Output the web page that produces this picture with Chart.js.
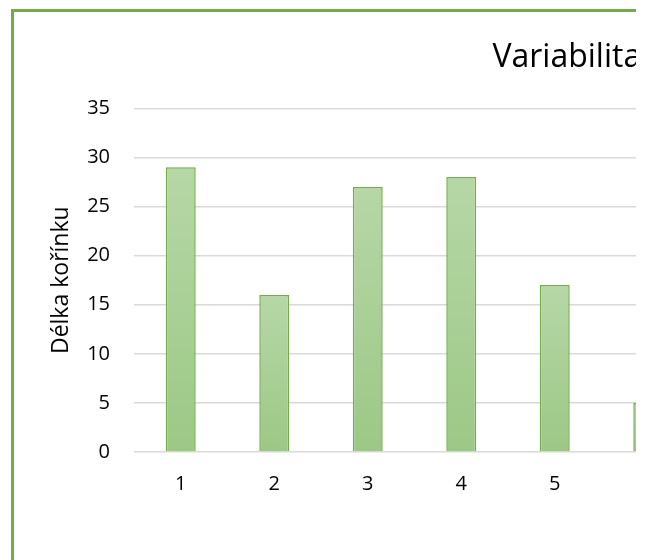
<!DOCTYPE html>
<html lang="cs">

<head>
  <meta charset="UTF-8">
  <title>Variabilita délky kořínku</title>
  <script src="https://cdn.jsdelivr.net/npm/chart.js"></script>
  <style>
    body {
      margin: 0;
      background: #fff;
    }

    /* the reference is a crop of a wider chart */
    .crop {
      position: absolute;
      left: 0;
      top: 0;
      width: 636px;
      height: 560px;
      overflow: hidden;
    }

    .frame {
      position: absolute;
      left: 11px;
      top: 9px;
      width: 1334px;
      height: 600px;
      border-left: 3px solid #70ad47;
      border-top: 3px solid #70ad47;
      background: #fff;
    }
  </style>
</head>

<body>
  <div class="crop">
    <div class="frame">
      <canvas id="rootChart" width="1334" height="600"></canvas>
    </div>
  </div>

  <script>
    const titleText = 'Variabilita délky kořínku';
    const yTitle = 'Délka kořínku';
    const plants = ['1', '2', '3', '4', '5', '6', '7', '8', '9', '10', '11', '12'];
    const lengths = [29, 16, 27, 28, 17, 5];
    const yTicks = [0, 5, 10, 15, 20, 25, 30, 35];

    const font = "'Open Sans', sans-serif";

    // light-to-darker green per bar, like the Excel gradient fill
    function barFill(c) {
      const chart = c.chart;
      if (!chart.chartArea || !c.parsed) return '#a9d18e';
      const y = chart.scales.y;
      const top = y.getPixelForValue(c.parsed.y);
      const bottom = y.getPixelForValue(0);
      const g = chart.ctx.createLinearGradient(0, top, 0, bottom);
      g.addColorStop(0, '#b6d7a6');
      g.addColorStop(1, '#9cc886');
      return g;
    }

    const ctx = document.getElementById('rootChart').getContext('2d');
    new Chart(ctx, {
      type: 'bar',
      data: {
        labels: plants,
        datasets: [{
          label: yTitle,
          data: lengths,
          backgroundColor: barFill,
          borderColor: '#70ad47',
          borderWidth: 1.5,
          borderSkipped: 'bottom',
          barPercentage: 0.32,
          categoryPercentage: 1
        }]
      },
      options: {
        responsive: false,
        animation: false,
        layout: {
          padding: { left: 0, right: 20, top: 0, bottom: 96 }
        },
        plugins: {
          legend: { display: false },
          tooltip: { enabled: false },
          title: {
            display: true,
            text: titleText,
            color: '#000',
            font: { family: font, size: 32, weight: 'normal' },
            padding: { top: 27, bottom: 31 }
          }
        },
        scales: {
          x: {
            grid: { display: false, drawTicks: false },
            border: { display: false },
            ticks: {
              color: '#000',
              font: { family: font, size: 20 },
              padding: 20
            }
          },
          y: {
            min: 0,
            max: 35,
            afterBuildTicks: s => { s.ticks = yTicks.map(v => ({ value: v })); },
            afterFit: s => { s.width = 120; },
            grid: { color: '#d9d9d9', lineWidth: 1.5, drawTicks: false },
            border: { display: false },
            ticks: {
              color: '#000',
              font: { family: font, size: 20 },
              padding: 24
            },
            title: {
              display: true,
              text: yTitle,
              color: '#000',
              font: { family: font, size: 23 },
              padding: { top: 34, bottom: 0 }
            }
          },
          // empty space right of the plot (outside the crop), keeps the title centred like the original
          spacer: {
            position: 'right',
            grid: { display: false, drawTicks: false },
            border: { display: false },
            ticks: { display: false },
            afterFit: s => { s.width = 72; }
          }
        }
      }
    });
  </script>
</body>

</html>
